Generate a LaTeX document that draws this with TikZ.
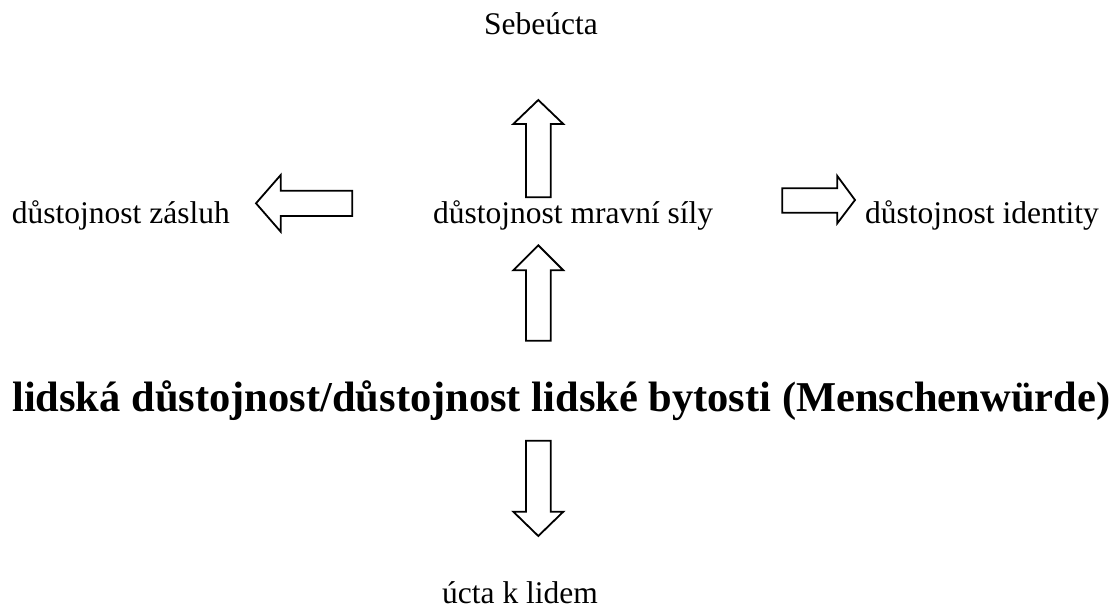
\documentclass[tikz,border=0pt]{standalone}
\usepackage{fontspec}
\setmainfont{Liberation Serif}
\begin{document}
\begin{tikzpicture}[x=1pt,y=-1pt,
  lbl/.style={inner sep=0pt,anchor=base west,font=\fontsize{31.5}{36}\selectfont},
  big/.style={inner sep=0pt,anchor=base west,font=\fontsize{42.5}{48}\selectfont\bfseries},
  blockarrow/.style={draw=black,fill=white,line width=1.8pt,line join=miter}]
\useasboundingbox[fill=white] (0,0) rectangle (1116,612);
% texts
\node[lbl] (sebe) at (484,35) {Sebeúcta};
\node[lbl] (zasl) at (11.7,224) {důstojnost zásluh};
\node[lbl] (mrav) at (433,224) {důstojnost mravní síly};
\node[lbl] (iden) at (865,224) {důstojnost identity};
\node[big] (main) at (12,411) {lidská důstojnost/důstojnost lidské bytosti (Menschenwürde)};
\node[lbl] (ucta) at (442,603) {úcta k lidem};
% up arrow (top)
\draw[blockarrow] (538.3,100) -- (563.3,124) -- (550.7,124) -- (550.7,197.3) -- (526,197.3) -- (526,124) -- (513.3,124) -- cycle;
% up arrow (middle)
\draw[blockarrow] (538.3,245.3) -- (563.3,270.3) -- (550.7,270.3) -- (550.7,340.7) -- (526,340.7) -- (526,270.3) -- (513.3,270.3) -- cycle;
% left arrow
\draw[blockarrow] (256,203.3) -- (280.7,175) -- (280.7,190.7) -- (352.3,190.7) -- (352.3,216) -- (280.7,216) -- (280.7,231.7) -- cycle;
% right arrow
\draw[blockarrow] (855,200) -- (837.3,176) -- (837.3,188.3) -- (782.3,188.3) -- (782.3,212.7) -- (837.3,212.7) -- (837.3,223.3) -- cycle;
% down arrow
\draw[blockarrow] (538.3,536) -- (563.3,511.7) -- (550.7,511.7) -- (550.7,440.7) -- (526,440.7) -- (526,511.7) -- (513.3,511.7) -- cycle;
\end{tikzpicture}
\end{document}
